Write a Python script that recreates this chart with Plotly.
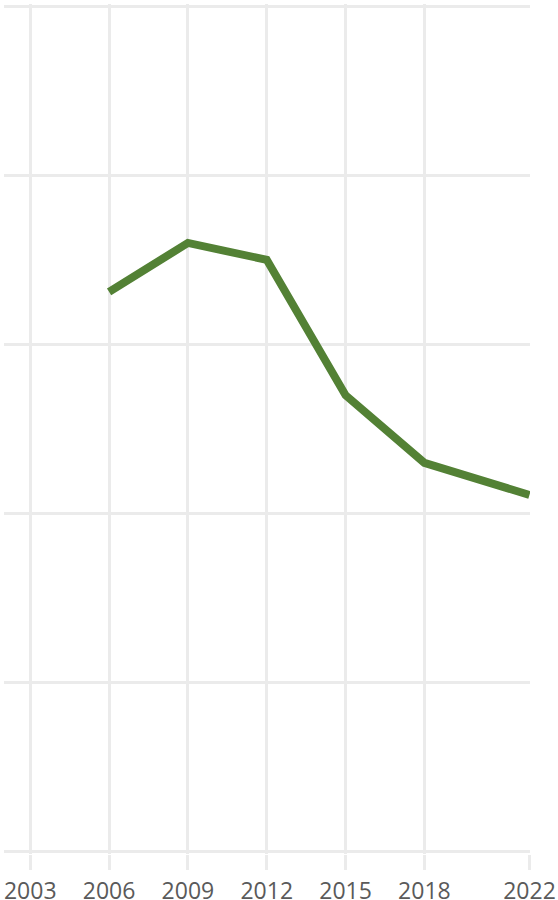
import plotly.graph_objects as go

years = [2006, 2009, 2012, 2015, 2018, 2022]
values = [33.1, 36.0, 35.0, 27.0, 23.0, 21.1]
tick_years = [2003, 2006, 2009, 2012, 2015, 2018, 2022]
tick_labels = [str(y) for y in tick_years]
y_grid = [0, 10, 20, 30, 40, 50]

grid = "#ebebeb"

fig = go.Figure()
fig.add_trace(go.Scatter(
    x=years, y=values, mode="lines",
    line=dict(color="#538135", width=8),
    hoverinfo="skip", showlegend=False,
))

fig.update_layout(
    width=558, height=900,
    margin=dict(l=4, r=28, t=4, b=46),
    paper_bgcolor="white", plot_bgcolor="white",
    font=dict(family="Open Sans", size=23, color="#5a5a5a"),
    xaxis=dict(
        range=[2002, 2022.02], tickmode="array", tickvals=tick_years, ticktext=tick_labels,
        showgrid=True, gridcolor=grid, gridwidth=3, zeroline=False,
        ticks="outside", ticklen=15, tickwidth=3, tickcolor=grid,
        ticklabelstandoff=1, automargin=False,
        showline=False,
    ),
    yaxis=dict(
        range=[-0.12, 50.12], tickmode="array", tickvals=y_grid,
        showticklabels=False, automargin=False,
        showgrid=True, gridcolor=grid, gridwidth=3, zeroline=False,
        ticks="", showline=False,
    ),
)

fig.write_html(
    "out.html",
    config={"displayModeBar": False},
    post_script="document.body.style.margin='0';document.body.style.padding='0';",
)
